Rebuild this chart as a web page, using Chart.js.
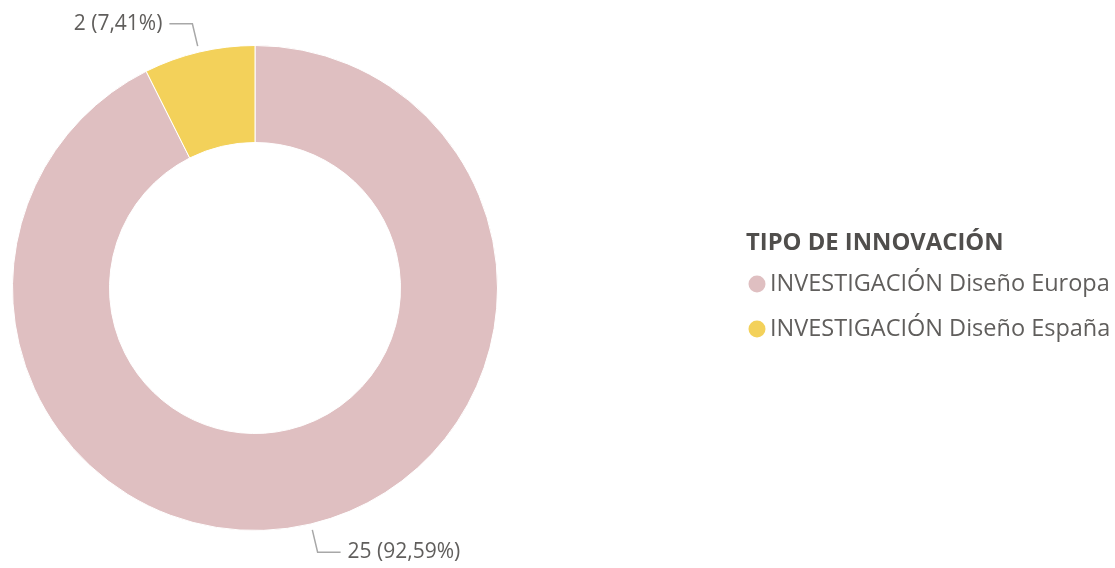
<!DOCTYPE html>
<html>
<head>
<meta charset="utf-8">
<script src="https://cdn.jsdelivr.net/npm/chart.js@4/dist/chart.umd.min.js"></script>
<style>
  html, body { margin: 0; padding: 0; background: #ffffff; }
  #wrap { position: relative; width: 1115px; height: 568px; }
</style>
</head>
<body>
<div id="wrap"><canvas id="c" width="1115" height="568"></canvas></div>
<script>
const categories = ["INVESTIGACIÓN Diseño Europa", "INVESTIGACIÓN Diseño España"];
const values = [25, 2];
const labelTexts = ["25 (92,59%)", "2 (7,41%)"];
const legendTitle = "TIPO DE INNOVACIÓN";
const colors = ["#DFBFC1", "#F3D15A"];

const textColor = "#605E5C";
const fontFamily = "'Open Sans', 'Noto Sans', sans-serif";

const outsideLabels = {
  id: 'outsideLabels',
  afterDatasetsDraw(chart) {
    const ctx = chart.ctx;
    const meta = chart.getDatasetMeta(0);
    ctx.save();
    ctx.strokeStyle = "#A8A8A8";
    ctx.lineWidth = 1.5;
    ctx.fillStyle = textColor;
    ctx.font = "21px " + fontFamily;
    ctx.textBaseline = "middle";
    meta.data.forEach((arc, i) => {
      const mid = (arc.startAngle + arc.endAngle) / 2;
      const cx = arc.x, cy = arc.y, r = arc.outerRadius;
      const cos = Math.cos(mid), sin = Math.sin(mid);
      const x0 = cx + cos * (r + 6), y0 = cy + sin * (r + 6);
      const x1 = cx + cos * (r + 29), y1 = cy + sin * (r + 29);
      const right = cos >= 0;
      const x2 = x1 + (right ? 23 : -23);
      ctx.beginPath();
      ctx.moveTo(x0, y0);
      ctx.lineTo(x1, y1);
      ctx.lineTo(x2, y1);
      ctx.stroke();
      ctx.textAlign = right ? "left" : "right";
      ctx.fillText(labelTexts[i], x2 + (right ? 7 : -7), y1);
    });
    ctx.restore();
  }
};

const customLegend = {
  id: 'customLegend',
  afterDraw(chart) {
    const ctx = chart.ctx;
    ctx.save();
    ctx.textBaseline = "middle";
    ctx.textAlign = "left";
    ctx.fillStyle = "#504E4C";
    ctx.font = "bold 23.8px " + fontFamily;
    ctx.fillText(legendTitle, 746, 243);
    ctx.font = "23.5px " + fontFamily;
    categories.forEach((name, i) => {
      const y = 284 + i * 45;
      ctx.fillStyle = colors[i];
      ctx.beginPath();
      ctx.arc(757, y, 8.5, 0, Math.PI * 2);
      ctx.fill();
      ctx.fillStyle = textColor;
      ctx.fillText(name, 770, y);
    });
    ctx.restore();
  }
};

new Chart(document.getElementById('c'), {
  type: 'doughnut',
  data: {
    labels: categories,
    datasets: [{
      data: values,
      backgroundColor: colors,
      borderColor: "#ffffff",
      borderWidth: 1
    }]
  },
  options: {
    responsive: false,
    animation: false,
    cutout: '60%',
    layout: { padding: { left: 12, right: 617, top: 44, bottom: 36 } },
    plugins: {
      legend: { display: false },
      tooltip: { enabled: false }
    }
  },
  plugins: [outsideLabels, customLegend]
});
</script>
</body>
</html>
